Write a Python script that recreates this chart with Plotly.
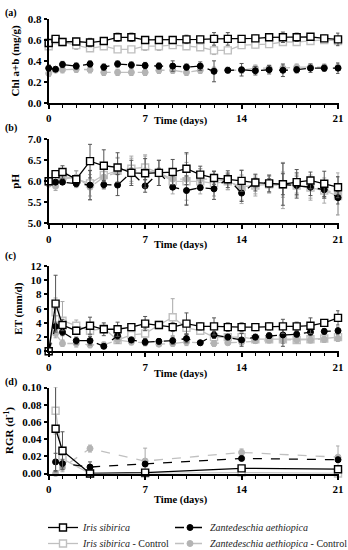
import plotly.graph_objects as go

# ---------------- data ----------------
days = [0, 0.5, 1, 2, 3, 4, 5, 6, 7, 8, 9, 10, 11, 12, 13, 14, 15, 16, 17, 18, 19, 20, 21]
days_rgr = [0.5, 1, 3, 7, 14, 21]

# (a) Chlorophyll a+b (mg/g)
chl_iris = [0.57, 0.61, 0.58, 0.585, 0.575, 0.59, 0.625, 0.625, 0.60, 0.60, 0.60, 0.605, 0.605, 0.61, 0.61, 0.61, 0.615, 0.625, 0.625, 0.625, 0.63, 0.615, 0.605]
chl_iris_err = [0.03, 0.02, 0.03, 0.03, 0.04, 0.02, 0.04, 0.04, 0.03, 0.03, 0.03, 0.04, 0.03, 0.06, 0.06, 0.03, 0.03, 0.03, 0.05, 0.04, 0.03, 0.03, 0.06]
chl_iris_c = [0.54, 0.60, 0.58, 0.55, 0.52, 0.54, 0.51, 0.51, 0.54, 0.54, 0.55, 0.54, 0.53, 0.50, 0.50, 0.55, 0.555, 0.56, 0.58, 0.58, 0.59, 0.60, 0.59]
chl_iris_c_err = [0.03, 0.02, 0.03, 0.04, 0.03, 0.03, 0.02, 0.02, 0.04, 0.04, 0.03, 0.03, 0.03, 0.04, 0.03, 0.03, 0.03, 0.03, 0.03, 0.03, 0.03, 0.03, 0.03]
chl_zant = [0.33, 0.32, 0.365, 0.35, 0.37, 0.34, 0.37, 0.36, 0.355, 0.35, 0.35, 0.34, 0.35, 0.30, 0.31, 0.315, 0.305, 0.315, 0.31, 0.315, 0.33, 0.33, 0.33]
chl_zant_err = [0.03, 0.02, 0.03, 0.03, 0.03, 0.03, 0.03, 0.03, 0.03, 0.03, 0.05, 0.03, 0.04, 0.10, 0.02, 0.06, 0.04, 0.04, 0.06, 0.03, 0.04, 0.03, 0.05]
chl_zant_c = [0.28, 0.31, 0.315, 0.32, 0.315, 0.29, 0.29, 0.29, 0.29, 0.31, 0.31, 0.29, 0.31, 0.31, 0.31, 0.31, 0.33, 0.33, 0.33, 0.34, 0.34, 0.34, 0.34]
chl_zant_c_err = [0.03, 0.02, 0.03, 0.03, 0.03, 0.03, 0.03, 0.03, 0.03, 0.03, 0.03, 0.03, 0.03, 0.03, 0.03, 0.03, 0.03, 0.03, 0.03, 0.03, 0.03, 0.03, 0.03]

# (b) pH
ph_iris = [6.0, 6.17, 6.22, 6.05, 6.48, 6.37, 6.33, 6.2, 6.19, 6.2, 6.22, 6.3, 6.16, 6.08, 6.05, 6.01, 5.97, 5.95, 5.93, 5.98, 6.02, 5.94, 5.86]
ph_iris_err = [0.02, 0.05, 0.15, 0.05, 0.4, 0.38, 0.35, 0.3, 0.35, 0.3, 0.3, 0.38, 0.2, 0.15, 0.2, 0.25, 0.2, 0.2, 0.25, 0.3, 0.2, 0.3, 0.25]
ph_iris_c = [6.0, 6.1, 6.12, 6.05, 5.95, 6.15, 6.25, 6.3, 6.33, 6.2, 6.0, 6.0, 6.0, 5.95, 6.0, 5.87, 5.9, 5.93, 5.92, 5.9, 5.85, 5.78, 5.65]
ph_iris_c_err = [0.02, 0.1, 0.1, 0.2, 0.3, 0.3, 0.3, 0.3, 0.3, 0.3, 0.3, 0.45, 0.3, 0.3, 0.2, 0.4, 0.25, 0.2, 0.3, 0.25, 0.3, 0.3, 0.45]
ph_zant = [6.0, 5.98, 5.98, 5.94, 5.91, 5.92, 5.91, 6.21, 5.89, 6.21, 5.86, 5.78, 5.85, 5.82, 6.07, 5.72, 5.97, 5.96, 5.93, 5.9, 5.86, 5.8, 5.61]
ph_zant_err = [0.02, 0.05, 0.05, 0.05, 0.35, 0.1, 0.25, 0.1, 0.15, 0.1, 0.05, 0.35, 0.05, 0.25, 0.1, 0.2, 0.1, 0.1, 0.5, 0.3, 0.2, 0.2, 0.15]
ph_zant_c = [5.93, 5.88, 6.05, 6.1, 5.86, 6.1, 6.22, 6.25, 6.25, 6.2, 6.05, 6.05, 6.05, 6.05, 6.0, 5.85, 5.9, 5.92, 5.9, 5.92, 5.85, 5.8, 5.7]
ph_zant_c_err = [0.02, 0.1, 0.1, 0.15, 0.3, 0.2, 0.35, 0.3, 0.35, 0.3, 0.2, 0.6, 0.25, 0.2, 0.2, 0.3, 0.2, 0.2, 0.55, 0.2, 0.25, 0.2, 0.5]

# (c) ET (mm/d)
et_iris = [0, 6.7, 3.7, 2.9, 3.6, 3.1, 3.1, 3.4, 3.9, 3.7, 3.4, 3.9, 3.5, 3.5, 3.4, 3.4, 3.4, 3.5, 3.5, 3.5, 3.6, 4.0, 4.7]
et_iris_err = [0, 4.0, 0.8, 0.5, 1.2, 0.9, 1.0, 0.4, 1.0, 0.3, 0.6, 1.5, 0.5, 1.2, 0.6, 0.6, 0.5, 0.5, 1.0, 0.6, 1.1, 0.3, 1.0]
et_iris_c = [0, 5.5, 4.3, 3.6, 2.9, 3.2, 1.6, 2.3, 2.5, 3.7, 4.8, 3.3, 2.9, 2.0, 2.0, 2.0, 1.7, 1.7, 1.7, 1.6, 1.7, 1.8, 2.0]
et_iris_c_err = [0, 2.0, 2.7, 0.8, 0.8, 0.6, 0.5, 0.5, 0.7, 0.5, 2.6, 0.8, 0.5, 0.5, 0.5, 0.6, 0.5, 0.5, 0.6, 0.5, 0.5, 0.5, 0.6]
et_zant = [0, 3.5, 2.7, 1.5, 1.5, 0.7, 2.2, 1.6, 1.3, 1.4, 1.5, 1.8, 1.2, 2.3, 2.0, 1.6, 2.0, 2.2, 2.3, 2.4, 2.7, 2.8, 2.9]
et_zant_err = [0, 0.6, 0.5, 0.5, 0.6, 0.3, 0.5, 0.4, 0.5, 0.4, 0.5, 0.6, 0.3, 0.5, 0.4, 0.9, 0.4, 0.4, 1.6, 0.4, 0.5, 0.4, 0.5]
et_zant_c = [0, 2.5, 1.1, 1.1, 0.9, 0.9, 1.6, 1.3, 1.2, 1.0, 1.1, 1.3, 1.2, 1.1, 1.2, 1.3, 1.5, 1.6, 1.6, 1.6, 1.6, 1.7, 1.8]
et_zant_c_err = [0, 0.6, 0.4, 0.5, 0.4, 0.4, 0.5, 0.4, 0.4, 0.3, 0.4, 0.5, 0.3, 0.4, 0.3, 0.4, 0.4, 0.4, 0.5, 0.4, 0.4, 0.4, 0.4]

# (d) RGR (1/d)
rgr_iris = [0.052, 0.0265, 0.0, 0.001, 0.006, 0.005]
rgr_iris_err = [0.05, 0.022, 0.0, 0.001, 0.002, 0.002]
rgr_iris_c = [0.073, 0.017, 0.0, 0.0, 0.001, 0.0]
rgr_iris_c_err = [0.027, 0.01, 0.0, 0.0, 0.001, 0.0]
rgr_zant = [0.0135, 0.0115, 0.0075, 0.011, 0.0175, 0.016]
rgr_zant_err = [0.01, 0.005, 0.006, 0.003, 0.002, 0.003]
rgr_zant_c = [0.0, 0.007, 0.029, 0.0145, 0.0245, 0.019]
rgr_zant_c_err = [0.0, 0.005, 0.004, 0.015, 0.004, 0.013]

panel_labels = ["(a)", "(b)", "(c)", "(d)"]
y_titles = ["Chl a+b (mg/g)", "pH", "ET (mm/d)", "RGR (d<sup>-1</sup>)"]
x_title = "Time (days)"
y_ranges = [[0, 0.8], [5, 7], [0, 12], [0, 0.1]]
y_dticks = [0.2, 0.5, 2, 0.02]
y_formats = [".1f", ".1f", "d", ".2f"]
x_ticks = [0, 7, 14, 21]

# ---------------- styles ----------------
FONT = "Liberation Serif"
BLACK = "#000000"
LGRAY = "#c0c0c0"
MGRAY = "#b4b4b4"

series_style = {
    "iris": dict(name="<i>Iris sibirica</i>", line=dict(color=BLACK, width=1.3, dash="solid"),
                 marker=dict(symbol="square", size=7, color="white", line=dict(color=BLACK, width=1.4)),
                 ecolor="#555555", legend="legend"),
    "zant": dict(name="<i>Zantedeschia aethiopica</i>", line=dict(color=BLACK, width=1.3, dash="dash"),
                 marker=dict(symbol="circle", size=6, color=BLACK, line=dict(color=BLACK, width=1)),
                 ecolor="#555555", legend="legend2"),
    "iris_c": dict(name="<i>Iris sibirica</i> - Control", line=dict(color=LGRAY, width=1.3, dash="solid"),
                   marker=dict(symbol="square", size=7, color="white", line=dict(color=LGRAY, width=1.4)),
                   ecolor="#a8a8a8", legend="legend3"),
    "zant_c": dict(name="<i>Zantedeschia aethiopica</i> - Control", line=dict(color=LGRAY, width=1.3, dash="dash"),
                   marker=dict(symbol="circle", size=6, color=MGRAY, line=dict(color=MGRAY, width=1)),
                   ecolor="#a8a8a8", legend="legend4"),
}

panels = [
    (days, {"iris_c": (chl_iris_c, chl_iris_c_err), "zant_c": (chl_zant_c, chl_zant_c_err),
            "zant": (chl_zant, chl_zant_err), "iris": (chl_iris, chl_iris_err)}),
    (days, {"iris_c": (ph_iris_c, ph_iris_c_err), "zant_c": (ph_zant_c, ph_zant_c_err),
            "zant": (ph_zant, ph_zant_err), "iris": (ph_iris, ph_iris_err)}),
    (days, {"iris_c": (et_iris_c, et_iris_c_err), "zant_c": (et_zant_c, et_zant_c_err),
            "zant": (et_zant, et_zant_err), "iris": (et_iris, et_iris_err)}),
    (days_rgr, {"iris_c": (rgr_iris_c, rgr_iris_c_err), "zant_c": (rgr_zant_c, rgr_zant_c_err),
                "zant": (rgr_zant, rgr_zant_err), "iris": (rgr_iris, rgr_iris_err)}),
]

W, H = 348, 550
x_left, x_right = 48.7, 339.4
tops = [19, 139.3, 266, 387.5]
bottoms = [102.7, 223.3, 351.3, 473.5]
xtitle_y = [121, 245, 374, 500]
label_y = [13, 128, 256, 382]

fig = go.Figure()
layout = {}
for i, (xs, series) in enumerate(panels):
    n = i + 1
    xa = "x" if n == 1 else f"x{n}"
    ya = "y" if n == 1 else f"y{n}"
    for key, (vals, errs) in series.items():
        st = series_style[key]
        fig.add_trace(go.Scatter(
            x=xs, y=vals, xaxis=xa, yaxis=ya, mode="lines+markers",
            name=st["name"], legend=st["legend"], showlegend=(n == 1),
            line=st["line"], marker=st["marker"], cliponaxis=False,
            error_y=dict(type="data", array=errs, visible=True, color=st["ecolor"],
                         thickness=1, width=2),
        ))
    dom_x = [x_left / W, x_right / W]
    dom_y = [1 - bottoms[i] / H, 1 - tops[i] / H]
    layout[f"xaxis{'' if n == 1 else n}"] = dict(
        domain=dom_x, range=[0, 21.1], anchor=ya, tickvals=x_ticks,
        ticks="outside", ticklen=4, tickwidth=1.5, tickcolor=BLACK,
        minor=dict(dtick=1, tick0=0, ticks="outside", ticklen=3, tickwidth=1, tickcolor=BLACK),
        showline=True, linecolor=BLACK, linewidth=2, showgrid=False, zeroline=False,
        tickfont=dict(family=FONT, size=11, color=BLACK, weight="bold"),
    )
    layout[f"yaxis{'' if n == 1 else n}"] = dict(
        domain=dom_y, range=y_ranges[i], anchor=xa, dtick=y_dticks[i], tick0=y_ranges[i][0],
        tickformat=y_formats[i],
        ticks="outside", ticklen=3, tickwidth=1.5, tickcolor=BLACK,
        showline=True, linecolor=BLACK, linewidth=2, showgrid=False, zeroline=False,
        tickfont=dict(family=FONT, size=11, color=BLACK, weight="bold"),
        title=dict(text=f"<b>{y_titles[i]}</b>", font=dict(family=FONT, size=11, color=BLACK), standoff=6),
    )

annotations = []
for i, (lab, ly) in enumerate(zip(panel_labels, label_y)):
    annotations.append(dict(text=f"<b>{lab}</b>", x=3 / W, y=1 - ly / H, xref="paper", yref="paper",
                            xanchor="left", yanchor="middle", showarrow=False,
                            font=dict(family=FONT, size=10, color=BLACK)))
    annotations.append(dict(text=f"<b>{x_title}</b>", x=181 / W, y=1 - xtitle_y[i] / H, xref="paper",
                            yref="paper", xanchor="center", yanchor="middle", showarrow=False,
                            font=dict(family=FONT, size=10.5, color=BLACK)))

legend_common = dict(orientation="v", yanchor="top", xanchor="left", bgcolor="rgba(0,0,0,0)",
                     itemwidth=30, font=dict(family=FONT, size=10, color="#222222"))
leg_col_x = [43, 170]
leg_row_top = [513, 529]

fig.update_layout(
    **layout,
    width=W, height=H,
    margin=dict(l=0, r=0, t=0, b=0, autoexpand=False),
    paper_bgcolor="white", plot_bgcolor="white",
    annotations=annotations,
    showlegend=True,
    legend=dict(x=leg_col_x[0] / W, y=1 - leg_row_top[0] / H, **legend_common),
    legend2=dict(x=leg_col_x[1] / W, y=1 - leg_row_top[0] / H, **legend_common),
    legend3=dict(x=leg_col_x[0] / W, y=1 - leg_row_top[1] / H, **legend_common),
    legend4=dict(x=leg_col_x[1] / W, y=1 - leg_row_top[1] / H, **legend_common),
)

fig.write_html("out.html", config={"displayModeBar": False},
               post_script="document.body.style.margin='0';")
